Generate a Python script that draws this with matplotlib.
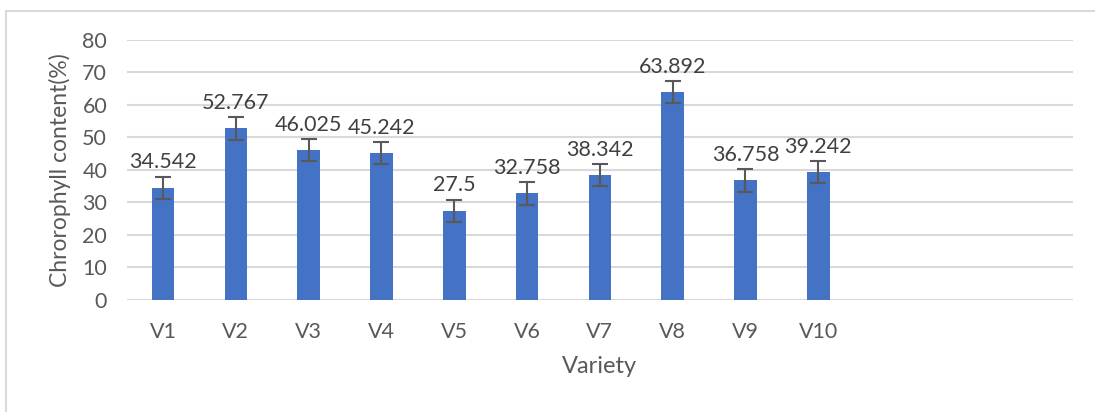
import matplotlib.pyplot as plt
from matplotlib.patches import Rectangle

# data
varieties = ["V1", "V2", "V3", "V4", "V5", "V6", "V7", "V8", "V9", "V10"]
chlorophyll = [34.542, 52.767, 46.025, 45.242, 27.5, 32.758, 38.342, 63.892, 36.758, 39.242]
errors = [3.4, 3.4, 3.4, 3.4, 3.4, 3.4, 3.4, 3.4, 3.4, 3.4]
n_slots = 13  # axis has 3 empty category slots after V10

plt.rcParams['font.family'] = ['Lato', 'DejaVu Sans']
txt = "#595959"

fig = plt.figure(figsize=(10.95, 4.12), dpi=100)
ax = fig.add_axes([0.1156, 0.272, 0.8644, 0.631])

# outer chart border
fig.patches.append(Rectangle((6 / 1095, -0.1), 1.2, 1 - 11 / 412 + 0.1, transform=fig.transFigure,
                             fill=False, edgecolor="#D9D9D9", linewidth=1.5))

x = list(range(len(varieties)))
ax.bar(x, chlorophyll, width=0.31, color="#4472C4", zorder=3)
ax.errorbar(x, chlorophyll, yerr=errors, fmt="none", ecolor="#595959",
            elinewidth=1.5, capsize=6, capthick=1.5, zorder=4)

for xi, v, e in zip(x, chlorophyll, errors):
    label = f"{v:g}"
    ax.annotate(label, (xi, v + e), xytext=(0, 3), textcoords="offset points",
                ha="center", va="bottom", fontsize=15.5, color="#404040")

ax.set_xlim(-0.5, n_slots - 0.5)
ax.set_ylim(0, 80)
ax.set_yticks(range(0, 81, 10))
ax.set_xticks(x)
ax.set_xticklabels(varieties)
ax.tick_params(axis="both", length=0, labelsize=15.5, labelcolor=txt)
ax.tick_params(axis="x", pad=16)
ax.tick_params(axis="y", pad=14)
ax.yaxis.grid(True, color="#D9D9D9", linewidth=1.5, zorder=0)
ax.set_axisbelow(True)
for s in ax.spines.values():
    s.set_visible(False)

ax.set_xlabel("Variety", fontsize=17, color=txt, labelpad=10)
ax.set_ylabel("Chrorophyll content(%)", fontsize=16.5, color=txt, labelpad=8)

fig.savefig("out.png", dpi=100)
